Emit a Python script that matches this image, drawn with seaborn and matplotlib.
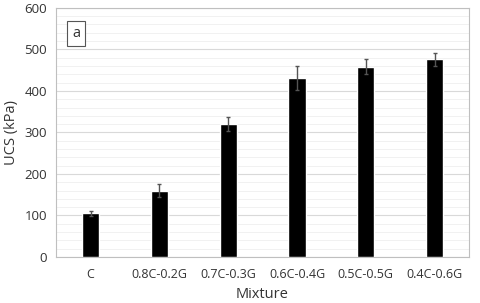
import matplotlib
matplotlib.use("Agg")
import matplotlib.pyplot as plt
import numpy as np
import pandas as pd
import seaborn as sns
from matplotlib.ticker import MultipleLocator

mixtures = ["C", "0.8C-0.2G", "0.7C-0.3G", "0.6C-0.4G", "0.5C-0.5G", "0.4C-0.6G"]
ucs = [105, 160, 320, 430, 458, 476]
err = [6, 15, 16, 29, 18, 15]

df = pd.DataFrame({"Mixture": mixtures, "UCS": ucs, "err": err})

sns.set_style("white")
plt.rcParams["font.family"] = ["Open Sans", "DejaVu Sans"]

fig = plt.figure(figsize=(4.8, 3.03), dpi=100)
ax = fig.add_axes([0.117, 0.152, 0.86, 0.822])

sns.barplot(data=df, x="Mixture", y="UCS", color="black", width=0.25,
            saturation=1, ax=ax, zorder=3)
ax.errorbar(np.arange(len(mixtures)), df["UCS"], yerr=df["err"], fmt="none",
            ecolor="#555555", elinewidth=1, capsize=1.5, capthick=1, zorder=4)

ax.set_ylim(0, 600)
ax.set_xlim(-0.5, 5.5)
ax.yaxis.set_major_locator(MultipleLocator(100))
ax.yaxis.set_minor_locator(MultipleLocator(20))
ax.grid(axis="y", which="major", color="#d9d9d9", lw=0.8, zorder=0)
ax.grid(axis="y", which="minor", color="#efefef", lw=0.6, zorder=0)
ax.set_axisbelow(True)
for s in ax.spines.values():
    s.set_color("#bfbfbf")
    s.set_linewidth(0.8)
ax.tick_params(axis="y", which="major", length=3, color="#bfbfbf", labelsize=9.5, colors="#333333")
ax.tick_params(axis="y", which="minor", length=0)
ax.tick_params(axis="x", length=0, labelsize=9, colors="#333333", pad=8)
ax.set_xlabel("Mixture", fontsize=10.5, color="#333333", labelpad=4)
ax.set_ylabel("UCS (kPa)", fontsize=10.5, color="#333333")

ax.text(0.048, 0.896, "a", transform=ax.transAxes, fontsize=10.5, color="#333333",
        va="center", ha="center",
        bbox=dict(boxstyle="square,pad=0.35", fc="white", ec="#555555", lw=0.8))

fig.savefig("out.png", dpi=100)
